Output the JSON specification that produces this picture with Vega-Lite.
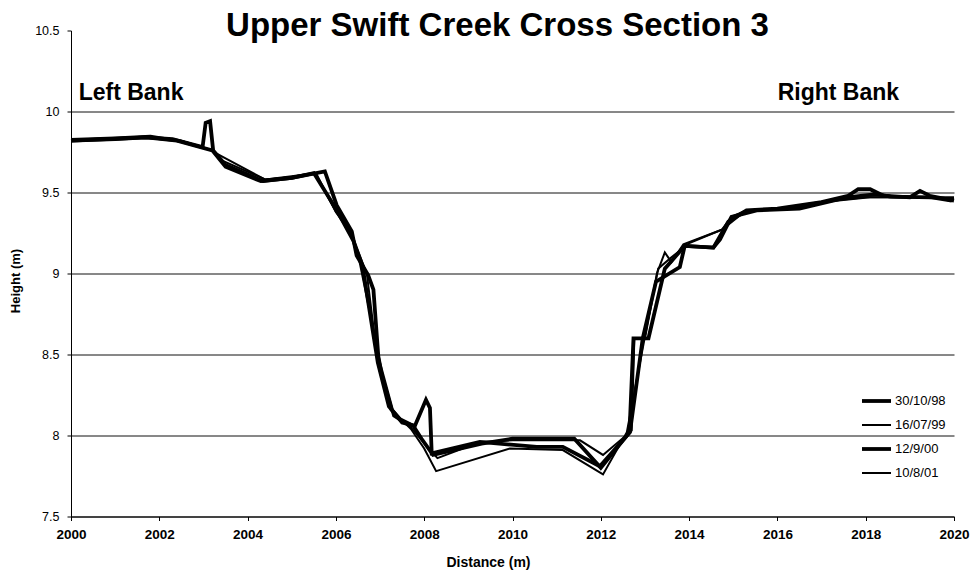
{
  "$schema": "https://vega.github.io/schema/vega-lite/v6.json",
  "width": 883,
  "height": 486,
  "autosize": "none",
  "padding": {"left": 71, "top": 30.5, "right": 20, "bottom": 61.5},
  "background": "white",
  "config": {"view": {"stroke": null}, "font": "Liberation Sans"},
  "title": {
    "text": "Upper Swift Creek Cross Section 3",
    "font": "Liberation Sans",
    "fontSize": 33,
    "fontWeight": "bold",
    "color": "black",
    "frame": "group",
    "anchor": "middle",
    "dx": -15,
    "dy": 38,
    "baseline": "alphabetic",
    "offset": -6
  },
  "datasets": {
    "lines": [
      {"d":"30/10/98","x":2000,"y":9.82},{"d":"30/10/98","x":2000.8,"y":9.83},{"d":"30/10/98","x":2001.7,"y":9.84},{"d":"30/10/98","x":2002.3,"y":9.83},{"d":"30/10/98","x":2002.98,"y":9.78},{"d":"30/10/98","x":2003.05,"y":9.93},{"d":"30/10/98","x":2003.15,"y":9.94},{"d":"30/10/98","x":2003.22,"y":9.76},{"d":"30/10/98","x":2003.5,"y":9.67},{"d":"30/10/98","x":2004.35,"y":9.57},{"d":"30/10/98","x":2005.0,"y":9.59},{"d":"30/10/98","x":2005.75,"y":9.63},{"d":"30/10/98","x":2006.02,"y":9.42},{"d":"30/10/98","x":2006.36,"y":9.26},{"d":"30/10/98","x":2006.47,"y":9.11},{"d":"30/10/98","x":2006.73,"y":8.99},{"d":"30/10/98","x":2006.85,"y":8.9},{"d":"30/10/98","x":2006.96,"y":8.49},{"d":"30/10/98","x":2007.04,"y":8.37},{"d":"30/10/98","x":2007.26,"y":8.16},{"d":"30/10/98","x":2007.45,"y":8.1},{"d":"30/10/98","x":2007.75,"y":8.06},{"d":"30/10/98","x":2007.94,"y":7.98},{"d":"30/10/98","x":2008.2,"y":7.88},{"d":"30/10/98","x":2009.3,"y":7.95},{"d":"30/10/98","x":2010.0,"y":7.98},{"d":"30/10/98","x":2011.4,"y":7.98},{"d":"30/10/98","x":2012.0,"y":7.8},{"d":"30/10/98","x":2012.65,"y":8.02},{"d":"30/10/98","x":2012.74,"y":8.6},{"d":"30/10/98","x":2013.08,"y":8.6},{"d":"30/10/98","x":2013.45,"y":9.03},{"d":"30/10/98","x":2013.9,"y":9.17},{"d":"30/10/98","x":2014.55,"y":9.16},{"d":"30/10/98","x":2014.89,"y":9.32},{"d":"30/10/98","x":2015.3,"y":9.39},{"d":"30/10/98","x":2016.0,"y":9.4},{"d":"30/10/98","x":2017.0,"y":9.44},{"d":"30/10/98","x":2017.6,"y":9.48},{"d":"30/10/98","x":2017.83,"y":9.52},{"d":"30/10/98","x":2018.1,"y":9.52},{"d":"30/10/98","x":2018.4,"y":9.48},{"d":"30/10/98","x":2019.0,"y":9.47},{"d":"30/10/98","x":2019.23,"y":9.51},{"d":"30/10/98","x":2019.45,"y":9.48},{"d":"30/10/98","x":2020,"y":9.45},

      {"d":"16/07/99","x":2000,"y":9.83},{"d":"16/07/99","x":2001,"y":9.84},{"d":"16/07/99","x":2001.8,"y":9.85},{"d":"16/07/99","x":2002.5,"y":9.82},{"d":"16/07/99","x":2003.2,"y":9.76},{"d":"16/07/99","x":2003.4,"y":9.7},{"d":"16/07/99","x":2004.4,"y":9.58},{"d":"16/07/99","x":2005.0,"y":9.6},{"d":"16/07/99","x":2005.53,"y":9.62},{"d":"16/07/99","x":2006.0,"y":9.38},{"d":"16/07/99","x":2006.3,"y":9.28},{"d":"16/07/99","x":2006.5,"y":9.12},{"d":"16/07/99","x":2007.0,"y":8.45},{"d":"16/07/99","x":2007.3,"y":8.15},{"d":"16/07/99","x":2007.7,"y":8.04},{"d":"16/07/99","x":2008.0,"y":7.92},{"d":"16/07/99","x":2008.27,"y":7.78},{"d":"16/07/99","x":2009.94,"y":7.92},{"d":"16/07/99","x":2011.14,"y":7.91},{"d":"16/07/99","x":2012.05,"y":7.76},{"d":"16/07/99","x":2012.59,"y":8.02},{"d":"16/07/99","x":2013.27,"y":9.0},{"d":"16/07/99","x":2013.45,"y":9.13},{"d":"16/07/99","x":2013.6,"y":9.07},{"d":"16/07/99","x":2013.87,"y":9.18},{"d":"16/07/99","x":2014.74,"y":9.27},{"d":"16/07/99","x":2015.3,"y":9.39},{"d":"16/07/99","x":2016.06,"y":9.4},{"d":"16/07/99","x":2017.0,"y":9.44},{"d":"16/07/99","x":2018.1,"y":9.47},{"d":"16/07/99","x":2019.08,"y":9.47},{"d":"16/07/99","x":2020,"y":9.47},

      {"d":"12/9/00","x":2000,"y":9.82},{"d":"12/9/00","x":2001,"y":9.83},{"d":"12/9/00","x":2001.7,"y":9.84},{"d":"12/9/00","x":2002.4,"y":9.82},{"d":"12/9/00","x":2003.2,"y":9.76},{"d":"12/9/00","x":2003.5,"y":9.66},{"d":"12/9/00","x":2004.3,"y":9.57},{"d":"12/9/00","x":2005.0,"y":9.59},{"d":"12/9/00","x":2005.5,"y":9.62},{"d":"12/9/00","x":2006.0,"y":9.4},{"d":"12/9/00","x":2006.4,"y":9.2},{"d":"12/9/00","x":2006.6,"y":9.05},{"d":"12/9/00","x":2006.95,"y":8.45},{"d":"12/9/00","x":2007.2,"y":8.18},{"d":"12/9/00","x":2007.5,"y":8.08},{"d":"12/9/00","x":2007.79,"y":8.06},{"d":"12/9/00","x":2008.04,"y":8.22},{"d":"12/9/00","x":2008.13,"y":8.17},{"d":"12/9/00","x":2008.17,"y":7.89},{"d":"12/9/00","x":2009.26,"y":7.96},{"d":"12/9/00","x":2010.55,"y":7.93},{"d":"12/9/00","x":2011.14,"y":7.93},{"d":"12/9/00","x":2011.98,"y":7.81},{"d":"12/9/00","x":2012.66,"y":8.02},{"d":"12/9/00","x":2012.95,"y":8.6},{"d":"12/9/00","x":2013.25,"y":8.95},{"d":"12/9/00","x":2013.79,"y":9.04},{"d":"12/9/00","x":2013.9,"y":9.17},{"d":"12/9/00","x":2014.55,"y":9.16},{"d":"12/9/00","x":2014.7,"y":9.21},{"d":"12/9/00","x":2014.96,"y":9.35},{"d":"12/9/00","x":2015.53,"y":9.39},{"d":"12/9/00","x":2016.5,"y":9.4},{"d":"12/9/00","x":2017.57,"y":9.47},{"d":"12/9/00","x":2018.25,"y":9.49},{"d":"12/9/00","x":2018.56,"y":9.475},{"d":"12/9/00","x":2019.5,"y":9.47},{"d":"12/9/00","x":2019.95,"y":9.45},

      {"d":"10/8/01","x":2000,"y":9.82},{"d":"10/8/01","x":2001.7,"y":9.84},{"d":"10/8/01","x":2002.6,"y":9.81},{"d":"10/8/01","x":2003.2,"y":9.76},{"d":"10/8/01","x":2003.3,"y":9.74},{"d":"10/8/01","x":2004.4,"y":9.58},{"d":"10/8/01","x":2005.2,"y":9.6},{"d":"10/8/01","x":2005.55,"y":9.62},{"d":"10/8/01","x":2006.0,"y":9.38},{"d":"10/8/01","x":2006.35,"y":9.24},{"d":"10/8/01","x":2006.7,"y":9.0},{"d":"10/8/01","x":2006.95,"y":8.45},{"d":"10/8/01","x":2007.3,"y":8.12},{"d":"10/8/01","x":2007.7,"y":8.05},{"d":"10/8/01","x":2008.1,"y":7.92},{"d":"10/8/01","x":2008.3,"y":7.86},{"d":"10/8/01","x":2009.26,"y":7.96},{"d":"10/8/01","x":2010.0,"y":7.97},{"d":"10/8/01","x":2011.53,"y":7.97},{"d":"10/8/01","x":2012.05,"y":7.88},{"d":"10/8/01","x":2012.7,"y":8.03},{"d":"10/8/01","x":2012.76,"y":8.6},{"d":"10/8/01","x":2013.0,"y":8.6},{"d":"10/8/01","x":2013.3,"y":9.03},{"d":"10/8/01","x":2013.6,"y":9.1},{"d":"10/8/01","x":2014.02,"y":9.19},{"d":"10/8/01","x":2014.74,"y":9.27},{"d":"10/8/01","x":2014.96,"y":9.35},{"d":"10/8/01","x":2015.3,"y":9.39},{"d":"10/8/01","x":2016.0,"y":9.4},{"d":"10/8/01","x":2017.04,"y":9.445},{"d":"10/8/01","x":2018.0,"y":9.47},{"d":"10/8/01","x":2019.0,"y":9.47},{"d":"10/8/01","x":2020,"y":9.46}
    ],
    "notes": [
      {"label": "Left Bank", "x": 2001.36, "y": 10.07},
      {"label": "Right Bank", "x": 2017.38, "y": 10.07}
    ]
  },
  "layer": [
    {
      "data": {"name": "lines"},
      "mark": {"type": "line", "color": "black", "strokeJoin": "miter", "clip": false},
      "encoding": {
        "x": {
          "field": "x", "type": "quantitative",
          "scale": {"domain": [2000, 2020], "nice": false, "zero": false},
          "axis": {
            "values": [2000,2002,2004,2006,2008,2010,2012,2014,2016,2018,2020],
            "format": "d",
            "grid": false,
            "domainColor": "black",
            "tickColor": "black",
            "tickSize": 4,
            "labelPadding": 7,
            "labelFont": "Liberation Sans",
            "labelFontSize": 13.5,
            "labelFontWeight": "bold",
            "labelColor": "black",
            "labelFlush": false,
            "title": "Distance (m)",
            "titleFont": "Liberation Sans",
            "titleFontSize": 14,
            "titleFontWeight": "bold",
            "titleColor": "black",
            "titleX": 417,
            "titleY": 50,
            "titleBaseline": "alphabetic",
            "titleAlign": "center",
            "titleAnchor": null
          }
        },
        "y": {
          "field": "y", "type": "quantitative",
          "scale": {"domain": [7.5, 10.5], "nice": false, "zero": false},
          "axis": {
            "values": [7.5,8,8.5,9,9.5,10,10.5],
            "labelExpr": "'' + datum.value",
            "grid": true,
            "gridColor": "#111111",
            "gridWidth": 1,
            "gridOpacity": {"condition": {"test": "datum.value == 10.5", "value": 0}, "value": 1},
            "domainColor": "black",
            "tickColor": "black",
            "tickSize": 4,
            "labelPadding": 8,
            "labelFont": "Liberation Sans",
            "labelFontSize": 12.5,
            "labelColor": "black",
            "title": "Height (m)",
            "titleFont": "Liberation Sans",
            "titleFontSize": 13,
            "titleFontWeight": "bold",
            "titleColor": "black",
            "titleAngle": 270,
            "titleX": -56,
            "titleY": 250,
            "titleBaseline": "middle",
            "titleAlign": "center",
            "titleAnchor": null
          }
        },
        "detail": {"field": "d"},
        "strokeWidth": {
          "field": "d", "type": "nominal",
          "scale": {"type": "ordinal", "domain": ["30/10/98","16/07/99","12/9/00","10/8/01"], "range": [3.8, 2, 3.8, 2]},
          "legend": {
            "orient": "none",
            "legendX": 789,
            "legendY": 354,
            "title": null,
            "symbolType": "stroke",
            "symbolSize": 841,
            "symbolStrokeColor": "black",
            "labelFont": "Liberation Sans",
            "labelFontSize": 13,
            "labelColor": "black",
            "labelOffset": 2,
            "rowPadding": -6
          }
        }
      }
    },
    {
      "data": {"name": "notes"},
      "mark": {"type": "text", "font": "Liberation Sans", "fontSize": 23, "fontWeight": "bold", "color": "black", "baseline": "alphabetic", "align": "center"},
      "encoding": {
        "x": {"field": "x", "type": "quantitative"},
        "y": {"field": "y", "type": "quantitative"},
        "text": {"field": "label"}
      }
    }
  ]
}
